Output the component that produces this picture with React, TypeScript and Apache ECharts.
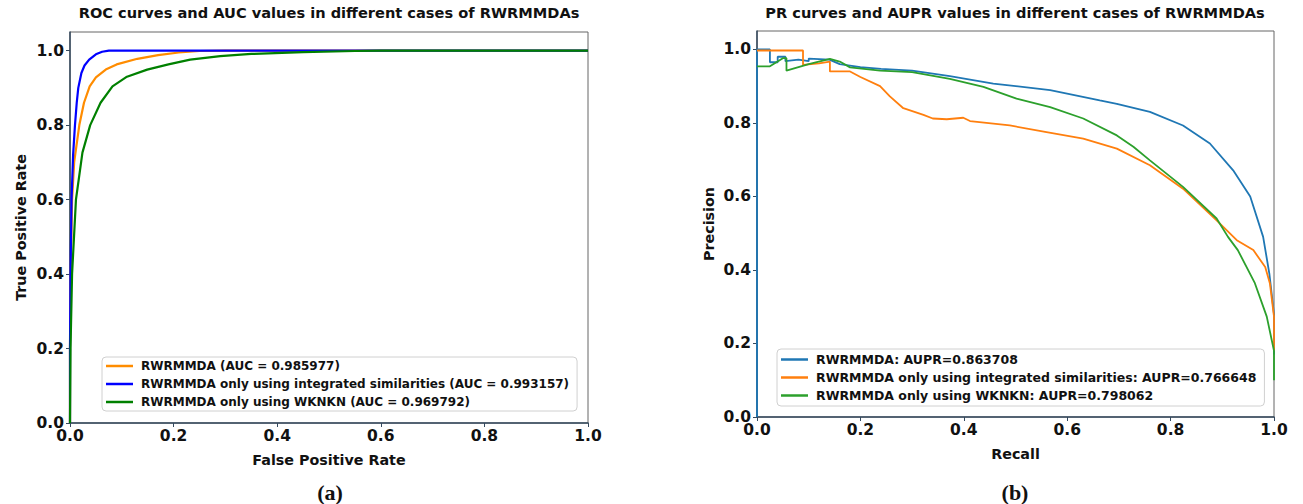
import React, { useEffect, useRef } from 'react';
import * as echarts from 'echarts';

const rocTitle = 'ROC curves and AUC values in different cases of RWRMMDAs';
const prTitle = 'PR curves and AUPR values in different cases of RWRMMDAs';
const rocNames = [
  'RWRMMDA (AUC = 0.985977)',
  'RWRMMDA only using integrated similarities (AUC = 0.993157)',
  'RWRMMDA only using WKNKN (AUC = 0.969792)',
];
const prNames = [
  'RWRMMDA: AUPR=0.863708',
  'RWRMMDA only using integrated similarities: AUPR=0.766648',
  'RWRMMDA only using WKNKN: AUPR=0.798062',
];
const tickValues = [0, 0.2, 0.4, 0.6, 0.8, 1.0];

// ROC curves [FPR, TPR]
const rocOrange = [
  [0, 0], [0, 0.2], [0.002, 0.45], [0.004, 0.6], [0.008, 0.7], [0.018, 0.8], [0.027, 0.86],
  [0.038, 0.904], [0.05, 0.928], [0.069, 0.949], [0.09, 0.963], [0.13, 0.978], [0.17, 0.988],
  [0.21, 0.995], [0.25, 0.999], [0.3, 1], [1, 1],
];
const rocBlue = [
  [0, 0], [0, 0.2], [0.001, 0.4], [0.003, 0.6], [0.006, 0.72], [0.0096, 0.8], [0.013, 0.86],
  [0.016, 0.9], [0.022, 0.94], [0.028, 0.96], [0.037, 0.976], [0.05, 0.99], [0.062, 0.997],
  [0.075, 1], [1, 1],
];
const rocGreen = [
  [0, 0], [0.001, 0.2], [0.004, 0.4], [0.0115, 0.6], [0.024, 0.726], [0.039, 0.8], [0.059, 0.86],
  [0.082, 0.904], [0.11, 0.93], [0.149, 0.949], [0.19, 0.963], [0.232, 0.976], [0.29, 0.985],
  [0.35, 0.991], [0.45, 0.996], [0.55, 0.999], [0.6, 1], [1, 1],
];

// PR curves [Recall, Precision]
const prBlue = [
  [0, 0], [0, 1.0], [0.025, 1.0], [0.025, 0.965], [0.04, 0.965], [0.04, 0.98], [0.055, 0.98],
  [0.055, 0.968], [0.08, 0.972], [0.1, 0.968], [0.1, 0.975], [0.14, 0.972], [0.16, 0.96],
  [0.2, 0.952], [0.24, 0.947], [0.3, 0.942], [0.373, 0.927], [0.457, 0.907], [0.567, 0.889],
  [0.663, 0.861], [0.696, 0.852], [0.76, 0.83], [0.824, 0.793], [0.876, 0.744], [0.921, 0.671],
  [0.954, 0.6], [0.979, 0.49], [0.991, 0.39], [1.0, 0.28], [1.0, 0.17],
];
const prOrange = [
  [0, 0.997], [0.089, 0.997], [0.089, 0.958], [0.12, 0.962], [0.141, 0.967], [0.141, 0.94],
  [0.18, 0.94], [0.2, 0.925], [0.238, 0.9], [0.257, 0.872], [0.283, 0.84], [0.322, 0.822],
  [0.34, 0.812], [0.367, 0.81], [0.399, 0.814], [0.412, 0.805], [0.489, 0.793], [0.56, 0.775],
  [0.631, 0.757], [0.696, 0.73], [0.76, 0.685], [0.824, 0.621], [0.889, 0.535], [0.928, 0.481],
  [0.96, 0.454], [0.983, 0.408], [0.992, 0.364], [1.0, 0.273], [1.0, 0.18],
];
const prGreen = [
  [0, 0.954], [0.025, 0.954], [0.05, 0.976], [0.057, 0.976], [0.057, 0.942], [0.1, 0.96],
  [0.141, 0.974], [0.16, 0.967], [0.18, 0.951], [0.238, 0.942], [0.3, 0.938], [0.373, 0.92],
  [0.438, 0.898], [0.502, 0.866], [0.567, 0.843], [0.631, 0.812], [0.696, 0.766], [0.728, 0.735],
  [0.76, 0.698], [0.824, 0.626], [0.889, 0.54], [0.911, 0.49], [0.93, 0.454], [0.963, 0.364],
  [0.986, 0.273], [1.0, 0.18], [1.0, 0.1],
];

const FONT = 'DejaVu Sans';
const AXIS_COLOR = '#34495e';

function xAxisCfg(gridIndex: number, name: string) {
  return {
    type: 'value', gridIndex, min: 0, max: 1, interval: 0.2,
    axisLine: { show: true, onZero: false, lineStyle: { color: AXIS_COLOR, width: 1.5 } },
    axisTick: { show: true, length: 4, lineStyle: { color: AXIS_COLOR } },
    splitLine: { show: false },
    axisLabel: {
      formatter: (v: number) => v.toFixed(1), color: '#111', fontFamily: FONT,
      fontWeight: 'bold', fontSize: 15.5, margin: 5,
    },
    name, nameLocation: 'middle', nameGap: 30,
    nameTextStyle: { fontFamily: FONT, fontWeight: 'bold', fontSize: 14.3, color: '#111' },
  };
}
function yAxisCfg(gridIndex: number, name: string, gap: number) {
  return {
    type: 'value', gridIndex, min: 0, max: 1.05,
    axisLine: { show: true, onZero: false, lineStyle: { color: AXIS_COLOR, width: 1.5 } },
    axisTick: { show: true, length: 4, customValues: tickValues, lineStyle: { color: AXIS_COLOR } },
    splitLine: { show: false },
    axisLabel: {
      customValues: tickValues,
      formatter: (v: number) => v.toFixed(1), color: '#111', fontFamily: FONT,
      fontWeight: 'bold', fontSize: 15.5, margin: 6,
    },
    name, nameLocation: 'middle', nameGap: gap, nameRotate: 90,
    nameTextStyle: { fontFamily: FONT, fontWeight: 'bold', fontSize: 14.3, color: '#111' },
  };
}
function legendCfg(data: string[], left: number, top: number, fontSize: number, gap: number, pad: number) {
  return {
    data, left, top, orient: 'vertical', icon: 'rect', itemWidth: 27, itemHeight: 2.5,
    itemGap: gap, padding: [pad, 8, pad, 4], backgroundColor: '#fff', borderColor: '#d0d0d0',
    borderWidth: 1, borderRadius: 4,
    textStyle: { fontFamily: FONT, fontWeight: 'bold', fontSize, color: '#111', padding: [0, 0, 0, 3] },
  };
}
function line(name: string, data: number[][], color: string, idx: number, width: number) {
  return {
    type: 'line', name, data, xAxisIndex: idx, yAxisIndex: idx, showSymbol: false, symbol: 'none',
    lineStyle: { color, width }, itemStyle: { color }, silent: true,
  };
}

export default function App() {
  const ref = useRef<HTMLDivElement>(null);
  useEffect(() => {
    const chart = echarts.init(ref.current!, null, { renderer: 'svg' });
    chart.setOption({
      animation: false,
      backgroundColor: '#fff',
      grid: [
        { left: 70, top: 32, width: 518, height: 391, show: true, borderColor: '#666', borderWidth: 1 },
        { left: 757, top: 31, width: 517, height: 386, show: true, borderColor: '#666', borderWidth: 1 },
      ],
      xAxis: [xAxisCfg(0, 'False Positive Rate'), xAxisCfg(1, 'Recall')],
      yAxis: [yAxisCfg(0, 'True Positive Rate', 42), yAxisCfg(1, 'Precision', 41)],
      legend: [legendCfg(rocNames, 102, 357, 12, 6, 3), legendCfg(prNames, 777, 349, 12.5, 5, 4)],
      series: [
        line(rocNames[0], rocOrange, '#ff8c00', 0, 2.2),
        line(rocNames[1], rocBlue, '#0000ff', 0, 2.2),
        line(rocNames[2], rocGreen, '#008000', 0, 2.2),
        line(prNames[0], prBlue, '#1f77b4', 1, 1.8),
        line(prNames[1], prOrange, '#ff7f0e', 1, 1.8),
        line(prNames[2], prGreen, '#2ca02c', 1, 1.8),
      ],
      graphic: [
        { type: 'text', x: 329, y: 12, style: { text: rocTitle, textAlign: 'center', textVerticalAlign: 'middle', fontFamily: FONT, fontWeight: 'bold', fontSize: 14.6, fill: '#111' } },
        { type: 'text', x: 1015, y: 12, style: { text: prTitle, textAlign: 'center', textVerticalAlign: 'middle', fontFamily: FONT, fontWeight: 'bold', fontSize: 14.6, fill: '#111' } },
        { type: 'text', x: 330, y: 492, style: { text: '(a)', textAlign: 'center', textVerticalAlign: 'middle', fontFamily: 'Liberation Serif', fontWeight: 'bold', fontSize: 22, fill: '#111' } },
        { type: 'text', x: 1015, y: 492, style: { text: '(b)', textAlign: 'center', textVerticalAlign: 'middle', fontFamily: 'Liberation Serif', fontWeight: 'bold', fontSize: 22, fill: '#111' } },
      ],
    });
    return () => chart.dispose();
  }, []);
  return (
    <div
      ref={ref}
      style={{ position: 'fixed', left: 0, top: 0, width: 1303, height: 504, background: '#fff' }}
    />
  );
}
